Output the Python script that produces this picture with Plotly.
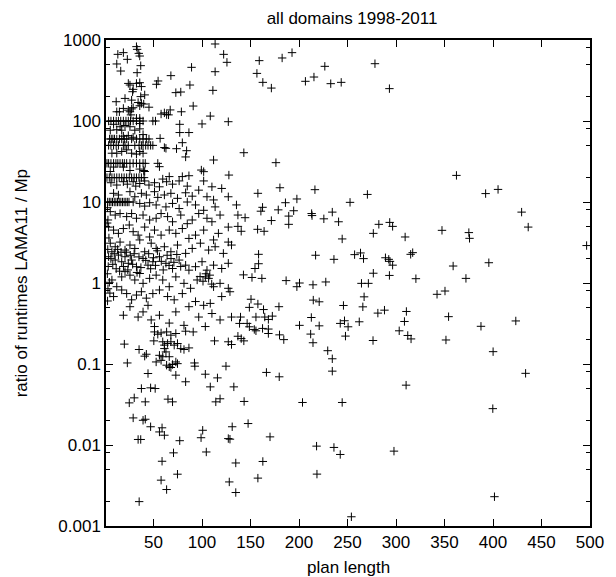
import plotly.graph_objects as go

# ---- plan length vs. runtime ratio (LAMA11 / Mp), all domains 1998-2011 ----

# runs with ratio above 100
high_ratio = [
    (32.4, 828), (33.1, 767), (34.8, 684), (35.8, 634), (36.8, 482), (33.1, 395),
    (13.2, 665), (18.9, 698), (23, 577), (12.1, 506), (16.2, 414), (113.5, 893),
    (122.3, 665), (125.7, 530), (113.5, 406), (89.2, 460), (67.9, 363), (54.7, 312),
    (53, 284), (87.5, 278), (73, 224), (78.1, 228), (111.2, 239), (90.9, 153),
    (67.2, 137), (57.8, 122), (61.2, 126), (63.5, 120), (65.5, 119), (78.7, 130),
    (108.5, 115), (24, 291), (25.7, 278), (29, 246), (28.4, 230), (32.4, 291),
    (35.8, 297), (37.5, 266), (40.9, 210), (36.8, 200), (39.9, 162), (37.5, 165),
    (34.1, 169), (35.8, 154), (27.4, 181), (20.6, 190), (11.5, 173), (12.1, 130),
    (14.8, 130), (18.9, 143), (24, 136), (25.7, 130), (27.4, 141), (29, 146),
    (26.7, 119), (32.4, 108), (35.8, 108), (45.3, 148),
    (159, 556), (156.6, 387), (162.7, 300), (171.5, 255), (182.6, 600), (192.8, 698),
    (226.6, 473), (206.6, 309), (215.4, 349), (232.7, 289), (243.5, 300), (278.3, 510),
    (293.2, 251),
]

# short plans with ratios between 20 and 100
band_x_100 = [3.7, 6.1, 8.8, 11.5, 13.8, 16.2, 18.9, 21.6, 24, 26.3, 29, 32.4, 35.8, 39.2, 49.3, 52]
band_x_60 = [4.7, 6.4, 8.1, 9.8, 12.1, 14.8, 17.2, 19.9, 22.3, 27.4, 32.4, 35.8, 39.2, 42.6, 45.3]
band_x_50 = [3.7, 6.1, 8.8, 11.5, 13.8, 18.9, 20.6, 24, 30.7, 35.1, 37.5, 39.2, 41.9, 44.3, 47, 49.3]
band_x_30 = [2, 3.7, 6.1, 8.8, 11.2, 13.2, 15.5, 17.9, 19.9, 22.3, 25.7, 29, 32.4, 35.8, 39.2, 41.5]
band_x_20 = [2, 4.4, 7.1, 9.5, 12.1, 14.6, 17.2, 19.7, 22.3, 25, 27.4, 30, 32.4, 35, 37.5, 40.2]
band_x_10 = [2.7, 4.4, 6.1, 7.7, 9.5, 11.2, 12.9, 14.6, 16.3, 18, 19.7, 21.4, 23, 24.7]

upper_mid = [
    (8.8, 91), (15.5, 85), (20.6, 88), (25.7, 85), (30.7, 77), (35.8, 80), (12.1, 78),
    (17.2, 77), (5.4, 77), (35.8, 93), (18.9, 65), (24, 66), (29, 63), (39.2, 68),
    (7.1, 40), (12.1, 40), (17.2, 42), (22.3, 44), (27.4, 40), (32.4, 39), (35.8, 42),
    (39.2, 40), (8.8, 27), (18.9, 27), (25.7, 24.5), (35.8, 25.5), (39.9, 24.5),
    (40.9, 23.8), (5.4, 23.8),
    (127.1, 98), (100, 92), (77, 91), (77, 72), (86.5, 72), (56.8, 61), (79.7, 54),
    (61.2, 47), (62.8, 46), (73.7, 45.5), (84.1, 43), (83.1, 36), (111.9, 33),
    (54.4, 30), (56.1, 27.3), (99.3, 24.8), (101.7, 23.7), (127.7, 21.5), (86.5, 21.1),
    (79.7, 20.6), (66.2, 20.6), (59.5, 19.2),
]

# ratios between 1 and 20
middle = [
    (6.1, 17.3), (12.1, 16.2), (18.9, 17.8), (23, 16.6), (29, 17.8), (31.7, 15.7),
    (35.8, 16.9), (40.9, 18.2), (45.3, 16.2), (51, 17.3), (56.1, 15.4), (63.5, 17.8),
    (69.6, 16.6), (76.4, 18.2), (84.8, 15.7), (101.7, 18.2), (110.2, 15.4), (120.3, 14.7),
    (8.8, 12.8), (13.8, 12.2), (25.7, 13.4), (30.7, 11.6), (37.5, 12.8), (42.6, 12.2),
    (51, 13.4), (54.4, 11.4), (61.2, 12.2), (67.9, 12.8), (74.7, 11.1), (83.1, 13.0),
    (89.9, 11.8), (96.6, 14.0), (105.1, 11.6), (111.9, 10.6), (127.1, 11.6),
    (29, 10), (35.8, 9.6), (40.9, 8.9), (46, 9.8), (52.7, 9.2), (62.8, 8.7), (69.6, 9.6),
    (76.4, 8.3), (84.8, 10), (93.3, 9.2), (101.7, 7.9), (113.5, 8.7), (135.5, 9.2),
    (5.4, 7.6), (10.5, 6.9), (15.5, 7.2), (22.3, 6.6), (27.4, 7.2), (32.4, 6.3),
    (39.2, 6.9), (46, 6.0), (52.7, 6.3), (57.8, 7.2), (64.5, 6.6), (69.6, 5.7),
    (78.1, 6.9), (84.8, 5.4), (89.9, 6.0), (96.6, 7.2), (105.1, 6.3), (110.2, 5.7),
    (118.6, 6.9), (127.1, 4.9),
    (3.7, 4.9), (8.8, 4.5), (13.8, 4.1), (18.9, 4.7), (25, 5.2), (29, 4.3), (34.1, 3.9),
    (40.9, 4.9), (46, 3.7), (51, 4.5), (57.8, 3.9), (66.2, 4.5), (73, 4.1), (79.7, 4.7),
    (86.5, 3.55), (93.3, 3.9), (101.7, 4.5), (111.9, 3.4), (116.9, 4.1), (127.1, 3.2),
    (5.4, 3.1), (10.5, 2.8), (15.5, 3.2), (20.6, 2.55), (25.7, 2.94), (30.7, 2.67),
    (35.8, 3.4), (40.9, 2.43), (47.6, 3.1), (52.7, 2.67), (61.2, 2.8), (67.9, 2.43),
    (74.7, 2.94), (83.1, 2.32), (89.9, 2.67), (98.3, 3.1), (106.8, 2.55), (113.5, 2.8),
    (122, 2.32), (130.4, 2.94),
    (3.7, 2.11), (7.1, 2.43), (10.5, 1.92), (13.8, 2.21), (17.2, 1.83), (20.6, 2.11),
    (24, 1.75), (27.4, 1.92), (32.4, 1.59), (39.2, 2.01), (44.3, 1.66), (49.3, 1.83),
    (56.1, 2.11), (62.8, 1.75), (69.6, 1.51), (76.4, 1.92), (83.1, 1.66), (86.5, 1.44),
    (93.3, 1.59), (100, 1.83), (105.1, 1.44), (111.9, 1.66), (120.3, 1.51), (127.1, 1.75),
    (7.1, 1.09), (17.2, 1.19), (20.6, 1.38), (25.7, 1.25), (30.7, 1.09), (35.8, 1.31),
    (46, 1.14), (52.7, 1.25), (59.5, 1.09), (73, 1.19), (95, 1.09), (103.4, 1.19),
    (106.8, 1.14),
    (2.5, 8.5), (3.0, 6.0), (2.2, 5.5), (4.0, 3.6), (2.8, 2.6), (3.3, 1.6), (2.4, 1.3),
    (4.5, 1.02),
    (6, 2.0), (8, 1.7), (9.5, 2.3), (11.5, 1.5), (13, 2.6), (15, 1.4), (16.5, 2.4),
    (19, 1.6), (22, 2.4), (23.5, 1.45), (26, 2.2), (28.5, 1.7), (30, 2.3), (33, 1.35),
    (35, 2.1), (37, 1.55), (42, 1.9), (45, 2.3), (47, 1.5), (50, 2.05), (52, 1.65),
    (54, 2.5), (58, 1.85), (60, 1.45), (64, 2.2), (66, 1.65), (68, 2.0), (71, 1.8),
    (74, 2.25), (78, 1.6), (98, 1.2), (101, 1.05), (104, 1.3), (108, 1.25),
]

# ratios below 1
low_ratio = [
    (110, 0.97), (3.0, 0.85), (5.0, 0.75), (2.6, 0.6),
    (12.1, 0.90), (39.2, 0.99), (66.2, 0.90), (81.4, 0.99), (88.2, 0.86), (111.9, 0.90),
    (118.6, 0.99), (127.1, 0.86),
    (8.8, 0.68), (17.2, 0.82), (22.3, 0.74), (27.4, 0.62), (32.4, 0.71), (37.5, 0.78),
    (42.6, 0.65), (49.3, 0.74), (56.1, 0.82), (64.5, 0.68), (71.3, 0.62), (79.7, 0.74),
    (86.5, 0.51), (93.3, 0.59), (101.7, 0.53), (108.5, 0.56), (120.3, 0.68), (128.8, 0.78),
    (18.9, 0.40), (25.7, 0.51), (34.1, 0.38), (39.2, 0.44), (44.3, 0.53), (47.6, 0.35),
    (51, 0.29), (56.1, 0.40), (66.2, 0.32), (73, 0.44), (81.4, 0.30), (96.6, 0.38),
    (103.4, 0.29), (110.2, 0.42), (118.6, 0.35), (130.4, 0.38),
    (51, 0.249), (54.4, 0.233), (57.8, 0.242), (63.5, 0.249), (67.9, 0.227), (73, 0.238),
    (83.1, 0.254), (90.9, 0.249), (50.3, 0.193), (59.5, 0.188), (61.2, 0.171),
    (64.5, 0.179), (67.9, 0.188), (71.3, 0.171), (74.7, 0.179), (78.1, 0.155),
    (81.4, 0.151), (86.5, 0.158), (61.2, 0.155), (62.8, 0.141), (56.1, 0.128),
    (59.5, 0.123), (66.2, 0.123), (52.7, 0.106), (57.8, 0.111), (63.5, 0.0967),
    (66.2, 0.0922), (69.6, 0.0986), (73, 0.106), (74.7, 0.101), (67.9, 0.0905),
    (73, 0.0728), (44.3, 0.0763), (35.1, 0.151), (40.9, 0.125), (42.6, 0.132),
    (19.9, 0.176), (23, 0.103), (83.1, 0.0603), (92.2, 0.103), (92.6, 0.094),
    (103.4, 0.0748), (115.9, 0.0674), (108.5, 0.0522), (124.7, 0.094), (132.8, 0.0522),
    (112.9, 0.193), (127.1, 0.188), (130.4, 0.174), (37.5, 0.0498), (47, 0.0508),
    (51.7, 0.0498), (25, 0.0331), (30.1, 0.0382), (41.5, 0.0341), (64.9, 0.0368),
    (69.6, 0.0341), (114.2, 0.0341), (118.6, 0.0372), (29, 0.0216), (39.2, 0.0202),
    (41.5, 0.0208), (47, 0.0168), (56.1, 0.0145), (58.8, 0.0163), (61.2, 0.0132),
    (34.1, 0.0117), (36.8, 0.0117), (77, 0.0113), (100.7, 0.0152), (99, 0.0123),
    (127.1, 0.012), (128.8, 0.0118), (131.1, 0.0168), (70.6, 0.008), (104.4, 0.0082),
    (58.8, 0.0063), (74.7, 0.00436), (134.8, 0.006), (57.8, 0.00368), (128.1, 0.0035),
    (63.5, 0.00282), (134.8, 0.00259), (35.2, 0.002),
]

# longer plans (beyond ~135 steps)
long_plans = [
    (143.1, 40.6), (176.2, 30.6), (180.3, 15), (216.4, 14.2), (157.6, 12.8), (270.5, 12.4),
    (186, 9.8), (197.8, 10.9), (252.6, 9.9), (162.4, 8.6), (160.7, 7.7), (178.6, 8.0),
    (194.5, 7.8), (189.4, 6.7), (213, 7.2), (213.4, 6.8), (137, 6.9), (144.4, 6.4),
    (234.3, 7.5), (225.6, 6.2), (240.8, 5.7), (171.5, 5.9), (189.4, 5.3), (282.3, 5.3),
    (293.5, 5.6), (296.5, 5.0), (276.6, 4.1), (137, 5.0), (157.3, 4.6), (164, 4.35),
    (140.4, 4.35), (244.5, 3.5), (309.4, 3.7), (158.3, 2.26), (217.1, 2.2), (236, 1.96),
    (257.3, 2.24), (263.4, 2.35), (266.5, 2.0), (289.1, 2.05), (292.5, 1.96),
    (315.1, 2.26), (317.2, 2.37), (293.8, 1.85), (296.5, 1.66), (158.3, 1.73),
    (154.6, 1.51), (142.7, 1.26), (151.5, 1.17), (161.7, 1.14), (186.7, 1.07),
    (200.5, 1.0), (197.8, 0.90), (214.4, 0.95), (227.6, 1.03), (264.4, 0.99),
    (271.5, 0.99), (276.6, 1.32), (293.2, 1.24), (320.5, 1.13), (150.5, 0.63),
    (148.8, 0.50), (157.6, 0.55), (163.4, 0.47), (179.3, 0.51), (155.6, 0.38),
    (164.7, 0.38), (168.4, 0.355), (172.5, 0.39), (139.7, 0.38), (138.7, 0.317),
    (146.5, 0.317), (148.8, 0.288), (153.9, 0.267), (155.6, 0.257), (162.4, 0.275),
    (168.4, 0.27), (168.4, 0.238), (179.9, 0.229), (184.3, 0.2), (140.4, 0.206),
    (143.1, 0.193), (137, 0.22), (200.5, 0.30), (212.7, 0.375), (220.8, 0.296),
    (214.7, 0.615), (220.8, 0.586), (245.8, 0.528), (242.5, 0.317), (246.9, 0.342),
    (250.6, 0.288), (247.9, 0.221), (262.1, 0.332), (265.8, 0.508), (267.1, 0.675),
    (281.3, 0.425), (288.1, 0.462), (276.3, 0.195), (310.7, 0.445), (308.7, 0.335),
    (303.3, 0.257), (312.1, 0.225), (315.5, 0.204), (212, 0.234), (214.4, 0.183),
    (229.6, 0.146), (234.3, 0.116), (234.3, 0.0816), (166.4, 0.0787), (179.6, 0.0695),
    (310.4, 0.0548), (143.4, 0.0345), (203.6, 0.0335), (244.5, 0.0335), (147.5, 0.0184),
    (170.1, 0.0126), (218.1, 0.00968), (236, 0.00933), (242.5, 0.00764), (297.9, 0.0084),
    (162.7, 0.00626), (157.6, 0.0039), (218.5, 0.00437), (254, 0.0013),
    (362.3, 21.3), (392.4, 12.7), (405.2, 14.3), (429.5, 7.5), (436.3, 4.9), (347.4, 4.47),
    (375.1, 4.19), (375.8, 3.56), (496.5, 2.9), (358.9, 1.62), (395.7, 1.78),
    (372.1, 1.14), (342.3, 0.725), (350.5, 0.796), (354.2, 0.384), (387.6, 0.292),
    (423.5, 0.34), (351.5, 0.198), (400.1, 0.142), (433.6, 0.0767), (399.8, 0.0281),
    (401.5, 0.0023),
]

xs, ys = [], []
for rows in (high_ratio, upper_mid, middle, low_ratio, long_plans):
    for px, py in rows:
        xs.append(px)
        ys.append(py)
for level, row in ((100, band_x_100), (60, band_x_60), (50, band_x_50),
                   (30, band_x_30), (20, band_x_20), (10, band_x_10)):
    xs.extend(row)
    ys.extend([level] * len(row))

x_ticks = [50, 100, 150, 200, 250, 300, 350, 400, 450, 500]
y_ticks = [0.001, 0.01, 0.1, 1, 10, 100, 1000]
y_tick_text = ["0.001", "0.01", "0.1", "1", "10", "100", "1000"]
y_minor = [m * 10.0 ** e for e in range(-3, 3) for m in (2, 5, 8)]

FONT = "Liberation Sans, Arial, Helvetica, sans-serif"

fig = go.Figure(
    go.Scatter(
        x=xs, y=ys, mode="markers",
        marker=dict(symbol="cross-thin", size=6, color="black",
                    line=dict(width=1, color="black")),
        hoverinfo="x+y",
    )
)

axis_common = dict(
    showline=True, linecolor="black", linewidth=1.5, mirror="ticks",
    ticks="inside", ticklen=7, tickwidth=1, tickcolor="black",
    showgrid=False, zeroline=False,
    tickfont=dict(family=FONT, size=17, color="black"),
)

fig.update_xaxes(range=[1, 500], tickvals=x_ticks, **axis_common)
fig.update_yaxes(
    type="log", range=[-3, 3], tickvals=y_ticks, ticktext=y_tick_text,
    minor=dict(tickmode="array", tickvals=y_minor, ticks="inside", ticklen=4,
               tickcolor="black", tickwidth=1, showgrid=False),
    **axis_common,
)

fig.update_layout(
    width=616, height=577,
    margin=dict(l=106, r=18, t=40, b=51, pad=0),
    paper_bgcolor="white", plot_bgcolor="white",
    showlegend=False,
    font=dict(family=FONT, size=17, color="black"),
    title=dict(text="all domains 1998-2011", x=0.5715, xanchor="center",
               y=0.969, yanchor="middle",
               font=dict(family=FONT, size=17, color="black")),
    annotations=[
        dict(text="plan length", xref="paper", yref="paper", x=0.5, y=-0.085,
             xanchor="center", yanchor="middle", showarrow=False,
             font=dict(family=FONT, size=17, color="black")),
        dict(text="ratio of runtimes LAMA11 / Mp", xref="paper", yref="paper",
             x=-0.175, y=0.5, xanchor="center", yanchor="middle", textangle=-90,
             showarrow=False, font=dict(family=FONT, size=17, color="black")),
    ],
)

fig.write_html("out.html")
